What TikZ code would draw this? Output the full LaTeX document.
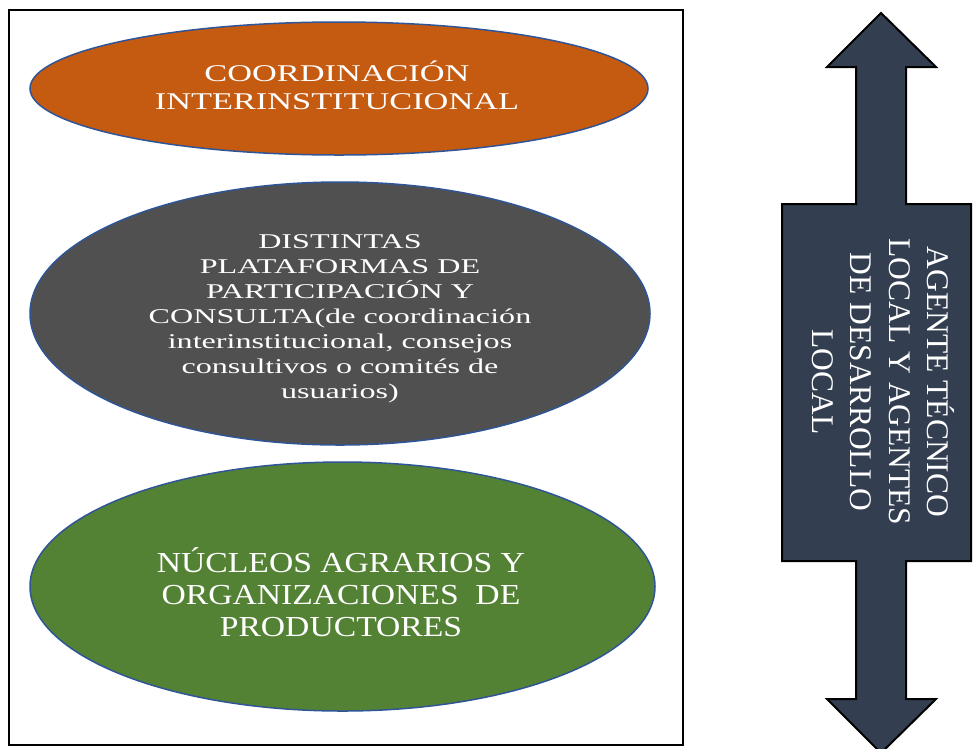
\documentclass[tikz,border=0pt]{standalone}
\usepackage{fontspec}
\setmainfont{Liberation Serif}
\newfontfamily\orfont[FakeStretch=1.43]{Liberation Serif}
\newfontfamily\grfont[FakeStretch=1.53]{Liberation Serif}
\newfontfamily\gnfont[FakeStretch=1.16]{Liberation Serif}
\usetikzlibrary{shapes.geometric}
\definecolor{orangeF}{HTML}{C55A11}
\definecolor{grayF}{HTML}{505050}
\definecolor{greenF}{HTML}{548235}
\definecolor{ellB}{HTML}{2F5597}
\definecolor{arrowF}{HTML}{333F50}
\begin{document}
\begin{tikzpicture}[x=1pt,y=-1pt,
  ell/.style={ellipse, draw=ellB, line width=1.5pt, inner sep=0pt},
  txt/.style={text=white, align=center, inner sep=0pt}]
\useasboundingbox (0,0) rectangle (973,748);
\fill[white] (0,0) rectangle (973,748);
% frame
\draw[line width=2pt] (9,10) rectangle (683,745);
% ellipses
\node[ell, fill=orangeF, minimum width=618pt, minimum height=133pt] (e1) at (339,88.5) {};
\node[ell, fill=grayF, minimum width=620pt, minimum height=263pt] (e2) at (340,313.5) {};
\node[ell, fill=greenF, minimum width=625pt, minimum height=249pt] (e3) at (342.5,586.5) {};
% texts
\node[txt, font=\orfont\fontsize{24}{28}\selectfont] (t1) at (337,85.5) {COORDINACIÓN\\INTERINSTITUCIONAL};
\node[txt, font=\grfont\fontsize{21}{25}\selectfont] (t2) at (340,319) {DISTINTAS\\PLATAFORMAS DE\\PARTICIPACIÓN Y\\CONSULTA(de coordinación\\interinstitucional, consejos\\consultivos o comités de\\usuarios)};
\node[txt, font=\gnfont\fontsize{29}{31.7}\selectfont] (t3) at (341,592) {NÚCLEOS AGRARIOS Y\\ORGANIZACIONES\ \ DE\\PRODUCTORES};
% double arrow with box
\draw[line width=2pt, fill=arrowF, line join=miter]
  (881,13) -- (936,67) -- (906,67) -- (906,204) -- (971,204) -- (971,561)
  -- (906,561) -- (906,699) -- (936,699) -- (881,753) -- (827,699)
  -- (856,699) -- (856,561) -- (782,561) -- (782,204) -- (856,204)
  -- (856,67) -- (827,67) -- cycle;
\node[txt, rotate=-90, font=\fontsize{31.5}{38.5}\selectfont] (t4) at (883.5,382) {AGENTE TÉCNICO\\LOCAL Y AGENTES\\DE DESARROLLO\\LOCAL};
\end{tikzpicture}
\end{document}
